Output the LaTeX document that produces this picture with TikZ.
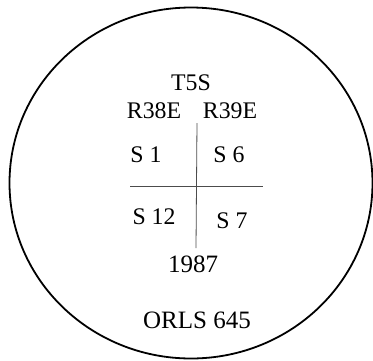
\documentclass[tikz,border=0pt]{standalone}
\usepackage{fontspec}
\setmainfont{Liberation Serif}
\begin{document}
\begin{tikzpicture}[x=1pt,y=-1pt,
  lbl/.style={inner sep=0pt, anchor=center, font=\fontsize{23.8}{28}\selectfont},
  big/.style={inner sep=0pt, anchor=center, font=\fontsize{25}{30}\selectfont},
  grid/.style={draw=black!70, line width=0.8pt}]
\useasboundingbox (0,0) rectangle (373,360);
\draw[line width=1.8pt] (191,183) ellipse [x radius=181.5, y radius=175.5];
\node[lbl] (t) at (191,83) {T5S};
\node[lbl] (r38) at (154,111) {R38E};
\node[lbl] (r39) at (230,111) {R39E};
\node[lbl] (s1) at (146,155) {S 1};
\node[lbl] (s6) at (229,155) {S 6};
\node[lbl] (s12) at (154,217) {S 12};
\node[lbl] (s7) at (232,221) {S 7};
\node[big] (yr) at (193,264) {1987};
\node[big] (orls) at (197,320) {ORLS 645};
\coordinate (vt) at (197,123);
\coordinate (vb) at (196,248);
\coordinate (hl) at (130,186);
\coordinate (hr) at (263,186);
\draw[grid] (vt) -- (vb);
\draw[grid] (hl) -- (hr);
\end{tikzpicture}
\end{document}
